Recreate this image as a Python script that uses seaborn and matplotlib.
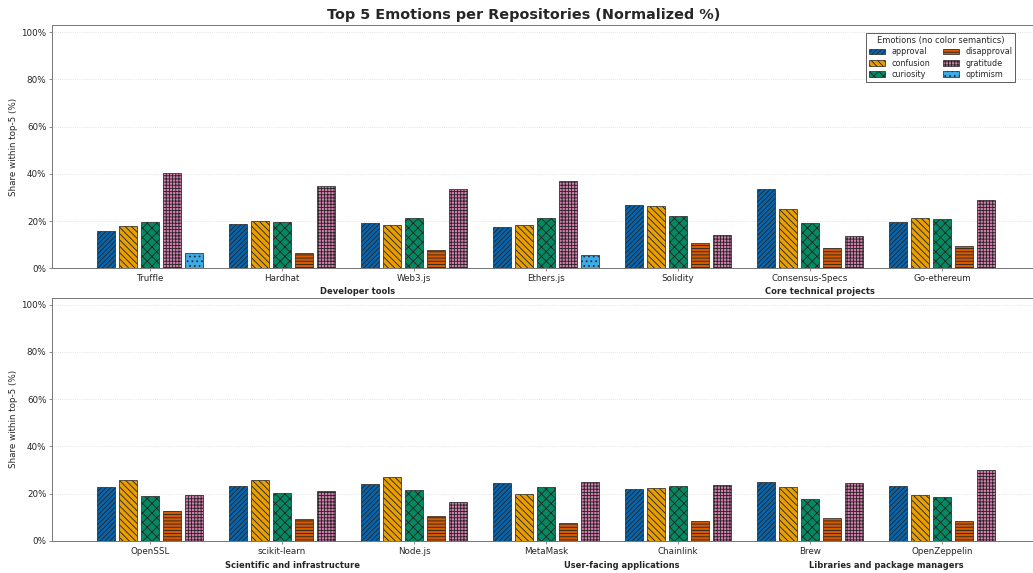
import numpy as np
import pandas as pd
import matplotlib
matplotlib.use("Agg")
import matplotlib.pyplot as plt
import matplotlib.patches as mpatches
import matplotlib.transforms as mtransforms
from matplotlib.ticker import PercentFormatter, MultipleLocator
import seaborn as sns

nan = np.nan

# Emotion categories, colours and hatch patterns
emotions = ["approval", "confusion", "curiosity", "disapproval", "gratitude", "optimism"]
emotion_colors = ["#0566B0", "#EA9F00", "#038A62", "#D55A00", "#D67CAE", "#3EAAE6"]
emotion_hatches = ["////", "\\\\\\", "xx", "---", "+++", ".."]

# Repositories in each panel
repos_top = ["Truffle", "Hardhat", "Web3.js", "Ethers.js", "Solidity",
             "Consensus-Specs", "Go-ethereum"]
repos_bottom = ["OpenSSL", "scikit-learn", "Node.js", "MetaMask", "Chainlink",
                "Brew", "OpenZeppelin"]

# Repository groups shown under each panel
groups_top = ["Developer tools", "Core technical projects"]
members_top = [["Truffle", "Hardhat", "Web3.js", "Ethers.js"],
               ["Solidity", "Consensus-Specs", "Go-ethereum"]]
groups_bottom = ["Scientific and infrastructure", "User-facing applications",
                 "Libraries and package managers"]
members_bottom = [["OpenSSL", "scikit-learn", "Node.js"],
                  ["MetaMask", "Chainlink"],
                  ["Brew", "OpenZeppelin"]]

# Share (%) of each emotion within a repository's top-5 (NaN = not in top-5),
# ordered as repos_top + repos_bottom
approval    = [15.7, 18.8, 19.0, 17.3, 26.8, 33.6, 19.6, 22.7, 23.2, 24.0, 24.5, 22.2, 24.9, 23.2]
confusion   = [17.7, 20.0, 18.3, 18.5, 26.5, 25.1, 21.1, 26.0, 25.9, 27.2, 20.0, 22.4, 23.0, 19.5]
curiosity   = [19.8, 19.8, 21.4, 21.5, 22.3, 19.2, 20.8, 18.9, 20.5, 21.6, 22.7, 23.1, 17.6, 18.8]
disapproval = [nan, 6.5, 7.7, nan, 10.5, 8.5, 9.6, 12.9, 9.1, 10.7, 7.8, 8.6, 9.9, 8.4]
gratitude   = [40.2, 34.9, 33.6, 36.9, 13.9, 13.6, 28.9, 19.5, 21.3, 16.5, 25.0, 23.7, 24.6, 30.1]
optimism    = [6.6, nan, nan, 5.8, nan, nan, nan, nan, nan, nan, nan, nan, nan, nan]

all_repos = repos_top + repos_bottom
series = dict(zip(emotions, [approval, confusion, curiosity, disapproval, gratitude, optimism]))

# Long table: one row per (repo, emotion) present; slot = position of the bar inside the repo
rows = []
for i, repo in enumerate(all_repos):
    slot = 0
    for emo in emotions:
        v = series[emo][i]
        if not np.isnan(v):
            rows.append({"repo": repo, "emotion": emo, "slot": slot, "share": v})
            slot += 1
df = pd.DataFrame(rows)
color_of = dict(zip(emotions, emotion_colors))
hatch_of = dict(zip(emotions, emotion_hatches))

sns.set_theme(style="ticks", context="notebook")
plt.rcParams["font.family"] = ["DejaVu Sans"]
plt.rcParams["hatch.linewidth"] = 1.1

W, H, DPI = 1033, 573, 57.39
fig = plt.figure(figsize=(W / DPI, H / DPI), dpi=DPI)


def px_axes(left, top, right, bottom):
    return fig.add_axes([left / W, 1 - bottom / H, (right - left) / W, (bottom - top) / H])


ax_top = px_axes(52, 25, 1040, 268.3)
ax_bot = px_axes(52, 297.5, 1040, 541)


def draw_panel(ax, repos, group_names, group_members, group_y):
    sub = df[df["repo"].isin(repos)]
    sns.barplot(data=sub, x="repo", y="share", hue="slot", order=repos,
                hue_order=[0, 1, 2, 3, 4], width=0.84, gap=0.18,
                errorbar=None, legend=False, ax=ax)
    lookup = {(r, s): e for r, s, e in zip(sub["repo"], sub["slot"], sub["emotion"])}
    for k, cont in enumerate(ax.containers):
        for j, bar in enumerate(cont):
            emo = lookup[(repos[j], k)]
            bar.set_facecolor(color_of[emo])
            bar.set_hatch(hatch_of[emo])
            bar.set_linewidth(0.9)
            if hasattr(bar, "set_hatchcolor"):
                bar.set_edgecolor("0.35")
                bar.set_hatchcolor("black")
            else:
                bar.set_edgecolor("0.15")

    ax.set_xlim(-0.742, len(repos) - 1 + 0.742)
    ax.set_ylim(0, 103)
    ax.yaxis.set_major_locator(MultipleLocator(20))
    ax.yaxis.set_major_formatter(PercentFormatter(100, decimals=0))
    ax.yaxis.grid(True, linestyle=":", color="0.82", linewidth=0.9)
    ax.set_axisbelow(True)
    ax.set_xlabel("")
    ax.set_ylabel("Share within top-5 (%)", fontsize=11)
    ax.tick_params(axis="both", labelsize=11, length=3.5, width=0.9, color="0.4")
    for sp in ax.spines.values():
        sp.set_color("0.45")
        sp.set_linewidth(1.2)

    trans = mtransforms.blended_transform_factory(ax.transData, ax.transAxes)
    for name, members in zip(group_names, group_members):
        xc = np.mean([repos.index(m) for m in members]) + 0.076
        ax.text(xc, group_y, name, transform=trans, ha="center", va="center",
                fontsize=10.5, fontweight="bold")


draw_panel(ax_top, repos_top, groups_top, members_top, -0.096)
draw_panel(ax_bot, repos_bottom, groups_bottom, members_bottom, -0.099)

fig.text(524 / W, 1 - 15 / H, "Top 5 Emotions per Repositories (Normalized %)",
         ha="center", va="center", fontsize=18, fontweight="bold")

handles = [mpatches.Patch(facecolor=c, hatch=h, edgecolor="0.15", linewidth=0.9, label=e)
           for e, c, h in zip(emotions, emotion_colors, emotion_hatches)]
leg = ax_top.legend(handles=handles, ncol=2, title="Emotions (no color semantics)",
                    fontsize=10, title_fontsize=10.5, loc="upper right",
                    bbox_to_anchor=(1015 / W, 1 - 33 / H), bbox_transform=fig.transFigure,
                    borderaxespad=0, fancybox=False, framealpha=1,
                    labelspacing=0.3, columnspacing=1.6, borderpad=0.35)
leg.get_frame().set_edgecolor("0.15")
leg.get_frame().set_linewidth(0.9)

fig.savefig("out.png", dpi=DPI)
